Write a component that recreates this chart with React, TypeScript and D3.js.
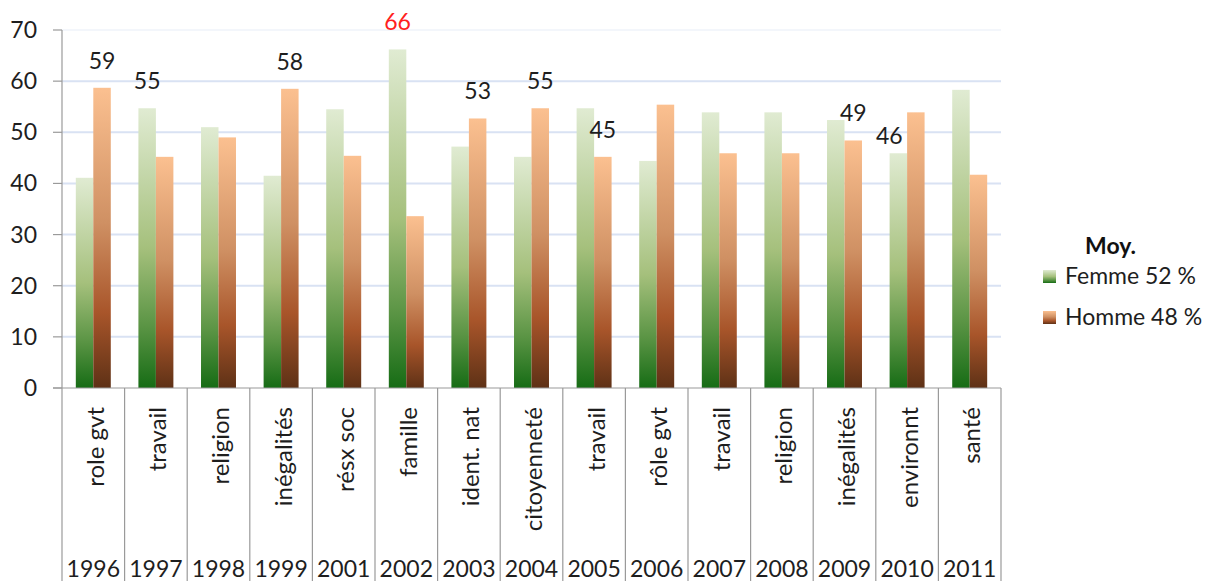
import React from "react";
import * as d3 from "d3";

const categories = ["role gvt", "travail", "religion", "inégalités", "résx soc", "famille", "ident. nat", "citoyenneté", "travail", "rôle gvt", "travail", "religion", "inégalités", "environnt", "santé"];
const years = ["1996", "1997", "1998", "1999", "2001", "2002", "2003", "2004", "2005", "2006", "2007", "2008", "2009", "2010", "2011"];
const femme = [41.1, 54.7, 51.0, 41.5, 54.5, 66.2, 47.2, 45.2, 54.7, 44.4, 53.9, 53.9, 52.4, 45.9, 58.3];
const homme = [58.7, 45.2, 49.0, 58.5, 45.4, 33.6, 52.7, 54.7, 45.2, 55.4, 45.9, 45.9, 48.4, 53.9, 41.7];
const yTicks = [0, 10, 20, 30, 40, 50, 60, 70];
const labelIdx = [0, 1, 3, 5, 6, 7, 8, 12, 13];
const labelSeries = ["h", "f", "h", "f", "h", "h", "h", "h", "f"];
const labelText = ["59", "55", "58", "66", "53", "55", "45", "49", "46"];
const legendTitle = "Moy.";
const legendNames = ["Femme 52 %", "Homme 48 %"];

const FONT = "Lato, 'Open Sans', sans-serif";

export default function App() {
  const W = 1208, H = 581;
  const left = 62, right = 1001, top = 30, base = 388;
  const x = d3.scaleBand<number>().domain(d3.range(categories.length)).range([left, right]).paddingInner(0).paddingOuter(0);
  const inner = d3.scaleBand<string>().domain(["f", "h"]).range([0, x.bandwidth()]).paddingInner(0).paddingOuter(0.79);
  const y = d3.scaleLinear().domain([0, 70]).range([base, top]);

  return (
    <svg width={W} height={H} style={{ position: "fixed", left: 0, top: 0, background: "#fff" }} fontFamily={FONT}>
      <defs>
        <linearGradient id="gF" x1="0" y1="0" x2="0" y2="1">
          <stop offset="0" stopColor="#e0ebd2" />
          <stop offset="0.5" stopColor="#a5c07c" />
          <stop offset="0.78" stopColor="#5a9444" />
          <stop offset="1" stopColor="#166c15" />
        </linearGradient>
        <linearGradient id="gH" x1="0" y1="0" x2="0" y2="1">
          <stop offset="0" stopColor="#fbc090" />
          <stop offset="0.45" stopColor="#cf9063" />
          <stop offset="0.75" stopColor="#a8552a" />
          <stop offset="1" stopColor="#5e3116" />
        </linearGradient>
      </defs>
      {yTicks.filter(t => t > 0).map(t => (
        <line key={"g" + t} x1={left} x2={right} y1={y(t)} y2={y(t)} stroke={t === 70 ? "#f3f6fb" : "#d9e2f3"} strokeWidth={2} />
      ))}
      {categories.map((c, i) => (
        <g key={"b" + i}>
          <rect x={(x(i) as number) + (inner("f") as number)} y={y(femme[i])} width={inner.bandwidth()} height={base - y(femme[i])} fill="url(#gF)" />
          <rect x={(x(i) as number) + (inner("h") as number)} y={y(homme[i])} width={inner.bandwidth()} height={base - y(homme[i])} fill="url(#gH)" />
        </g>
      ))}
      <line x1={left} x2={left} y1={top} y2={H} stroke="#9a9a9a" strokeWidth={1.2} />
      {yTicks.map(t => (
        <g key={"t" + t}>
          <line x1={left - 9} x2={left} y1={y(t)} y2={y(t)} stroke="#9a9a9a" strokeWidth={1.2} />
          <text x={37} y={y(t)} dy="0.35em" textAnchor="end" fontSize={23} fill="#1e1e1e">{t}</text>
        </g>
      ))}
      <line x1={left - 9} x2={right} y1={base} y2={base} stroke="#9a9a9a" strokeWidth={1.2} />
      {categories.map((c, i) => (
        <line key={"s" + i} x1={(x(i) as number) + x.bandwidth()} x2={(x(i) as number) + x.bandwidth()} y1={base} y2={H} stroke="#9a9a9a" strokeWidth={1.2} />
      ))}
      {categories.map((c, i) => {
        const cx = (x(i) as number) + x.bandwidth() / 2 + 2;
        return (
          <text key={"c" + i} transform={`translate(${cx},407) rotate(-90)`} textAnchor="end" dy="0.35em" fontSize={24} fill="#1e1e1e">{c}</text>
        );
      })}
      {years.map((yr, i) => (
        <text key={"y" + i} x={(x(i) as number) + x.bandwidth() / 2} y={577} textAnchor="middle" fontSize={23} fill="#1e1e1e">{yr}</text>
      ))}
      {labelIdx.map((idx, k) => {
        const s = labelSeries[k];
        const v = s === "f" ? femme[idx] : homme[idx];
        let lx = (x(idx) as number) + (inner(s) as number) + inner.bandwidth() / 2;
        let ly = y(v) - 19;
        if (labelText[k] === "46" && idx === 13) { lx -= 9; ly += 10; }
        return (
          <text key={"l" + k} x={lx} y={ly} textAnchor="middle" fontSize={23} fill={labelText[k] === "66" ? "#ff2020" : "#1e1e1e"}>{labelText[k]}</text>
        );
      })}
      <text x={1085} y={254} fontSize={23} fontWeight="bold" fill="#111">{legendTitle}</text>
      <rect x={1043} y={270} width={13} height={13} fill="url(#gF)" />
      <text x={1065} y={284} fontSize={23} fill="#1e1e1e">{legendNames[0]}</text>
      <rect x={1043} y={311} width={13} height={13} fill="url(#gH)" />
      <text x={1065} y={325} fontSize={23} fill="#1e1e1e">{legendNames[1]}</text>
    </svg>
  );
}
